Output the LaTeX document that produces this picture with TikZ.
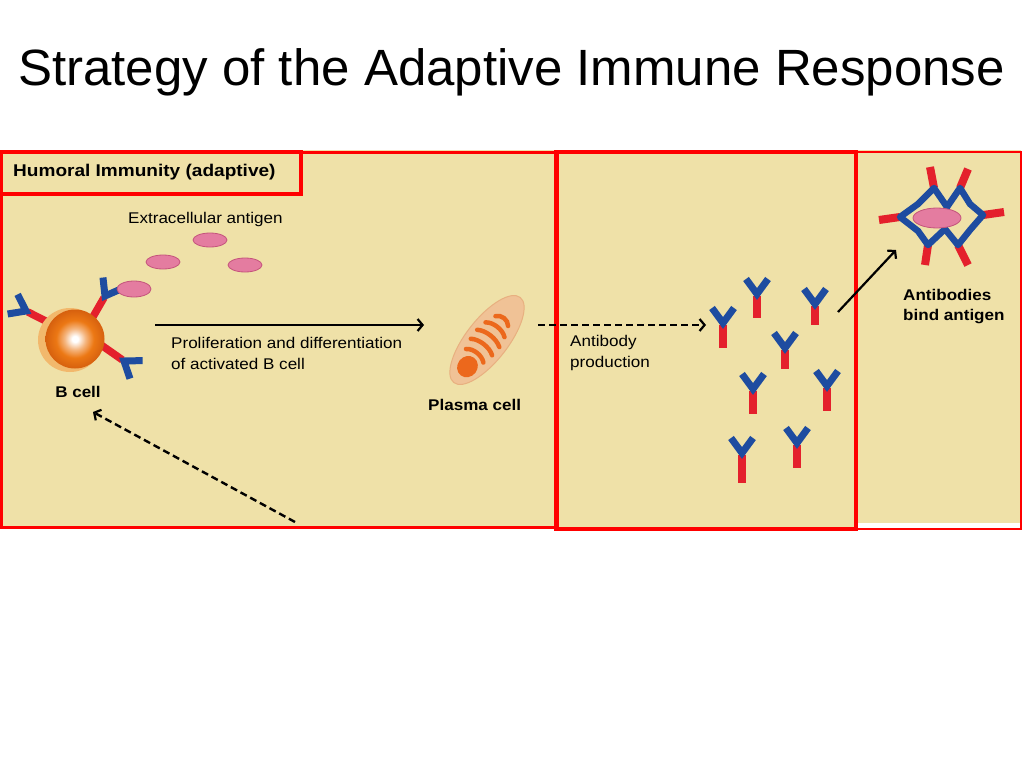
\documentclass[tikz,border=0pt]{standalone}
\usepackage{fontspec}
\setmainfont{Liberation Sans}
\usepackage{graphicx}
\usetikzlibrary{arrows.meta}
\definecolor{beige}{RGB}{239,225,168}
\definecolor{abred}{RGB}{228,32,44}
\definecolor{abblue}{RGB}{30,76,160}
\definecolor{agpink}{RGB}{228,124,160}
\definecolor{agline}{RGB}{196,84,124}
\definecolor{pcfill}{RGB}{240,194,150}
\definecolor{pcedge}{RGB}{232,176,128}
\definecolor{pcorange}{RGB}{236,104,28}
\definecolor{cellorange}{RGB}{236,120,20}
\definecolor{celldark}{RGB}{214,96,14}
\definecolor{celllight}{RGB}{242,184,108}
\pgfdeclareradialshading{bcellshade}{\pgfpoint{0bp}{0bp}}{%
 color(0bp)=(white); color(2.5bp)=(white); color(9bp)=(cellorange!55!white);
 color(16bp)=(cellorange); color(25bp)=(celldark); color(50bp)=(celldark)}
\newcommand\hstretch[1]{\scalebox{1.1}[1]{#1}}
\newcommand\abY[4]{%
 \begin{scope}[shift={(#1,#2)},rotate=#3]
  \draw[abred,line width=7.5pt] (0,2) -- (0,#4);
  \draw[abblue,line width=7pt,line join=miter] (-11,-15) -- (0,0) -- (11,-15);
 \end{scope}}
\tikzset{
 lbl/.style={anchor=base west, inner sep=0pt, font=\fontsize{15.5}{18}\selectfont},
 blbl/.style={lbl, font=\fontsize{15.5}{18}\selectfont\bfseries},
 antigen/.style={fill=agpink, draw=agline, line width=0.8pt},
 redbox/.style={draw=red, line width=#1},
 solidarrow/.style={line width=2.2pt, -{Straight Barb[length=5pt,width=12pt,line width=2.2pt]}},
 dasharrow/.style={line width=2.4pt, dash pattern=on 7pt off 4pt, -{Straight Barb[length=5pt,width=12pt,line width=2.2pt]}}
}
\begin{document}
\begin{tikzpicture}[x=1pt,y=-1pt]
\useasboundingbox (0,0) rectangle (1024,768);
\fill[white] (0,0) rectangle (1024,768);
% backgrounds
\fill[beige] (0,150) rectangle (856,527);
\fill[beige] (856,150) rectangle (1021,523);
% title
\node[anchor=base west, inner sep=0pt, font=\fontsize{51}{60}\selectfont] (title) at (18,85) {Strategy of the Adaptive Immune Response};
% boxes
\draw[redbox=3pt] (1.5,152) rectangle (557,527);
\draw[redbox=3.5pt] (1.5,152) rectangle (301,194);
\draw[redbox=2.5pt] (856,152) rectangle (1021,529);
\draw[redbox=4pt] (556,152) rectangle (856,529);
% texts
\node[blbl, font=\fontsize{17}{20}\selectfont\bfseries] (hdr) at (13,176) {\scalebox{1.12}[1]{Humoral Immunity (adaptive)}};
\node[lbl] (extag) at (128,223) {\hstretch{Extracellular antigen}};
\node[lbl] (prolA) at (171,348) {\hstretch{Proliferation and differentiation}};
\node[lbl] (prolB) at (171,369) {\hstretch{of activated B cell}};
\node[blbl, anchor=base] (bcl) at (78,397) {\hstretch{B cell}};
\node[blbl] (pcl) at (428,410) {\hstretch{Plasma cell}};
\node[lbl] (abpA) at (570,346) {\hstretch{Antibody}};
\node[lbl] (abpB) at (570,367) {\hstretch{production}};
\node[blbl] (bindA) at (903,300) {\hstretch{Antibodies}};
\node[blbl] (bindB) at (903,320) {\hstretch{bind antigen}};
% free antigens
\draw[antigen] (210,240) ellipse [x radius=17pt, y radius=7pt];
\draw[antigen] (163,262) ellipse [x radius=17pt, y radius=7pt];
\draw[antigen] (245,265) ellipse [x radius=17pt, y radius=7pt];
% B cell antibodies
\abY{26}{311}{63}{28}
\abY{105}{296}{-30}{26}
\abY{124}{361}{-125}{30}
\draw[antigen] (134,289) ellipse [x radius=17pt, y radius=8pt];
% B cell
\fill[celllight] (70,340) circle (32pt);
\shade[shading=bcellshade] (75,339) circle (29.5pt);
\coordinate (bcell) at (72,338);
% plasma cell
\begin{scope}[shift={(487,340)},rotate=52]
 \draw[pcedge, fill=pcfill, line width=1pt] (0,0) ellipse [x radius=54pt, y radius=21pt];
 \fill[pcorange] (-33,1) ellipse [x radius=11pt, y radius=10pt];
 \foreach \a/\h in {-18/11,-7/13.5,4/14,15/12,26/8}{
  \draw[pcorange, line width=4.5pt, line cap=round] (\a-2,-\h) .. controls (\a+3,-\h/2) and (\a+3,\h/2) .. (\a-2,\h);
 }
\end{scope}
\coordinate (pcell) at (487,340);
% free antibodies
\abY{723}{323}{0}{25}
\abY{757}{294}{0}{24}
\abY{815}{304}{0}{21}
\abY{785}{348}{0}{21}
\abY{753}{389}{0}{25}
\abY{827}{386}{0}{25}
\abY{797}{443}{0}{25}
\abY{742}{453}{0}{30}
% bound complex
\coordinate (jL) at (900,217);
\coordinate (jTL) at (934,188);
\coordinate (jTR) at (960,188);
\coordinate (jR) at (983,215);
\coordinate (jBR) at (958,245);
\coordinate (jBL) at (928,245);
\draw[abred, line width=8pt] (jL) -- (879,220);
\draw[abred, line width=8pt] (jTL) -- (930,167);
\draw[abred, line width=8pt] (jTR) -- (968,169);
\draw[abred, line width=8pt] (jR) -- (1004,212);
\draw[abred, line width=8pt] (jBR) -- (968,265);
\draw[abred, line width=8pt] (jBL) -- (925,265);
\draw[abblue, line width=6.5pt, line join=round] (jL) -- (918,204) -- (jTL) -- (947,207) -- (jTR) -- (970,204) -- (jR) -- (970,230) -- (jBR) -- (945,229) -- (jBL) -- (918,231) -- cycle;
\draw[antigen] (937,218) ellipse [x radius=24pt, y radius=10pt];
% arrows
\coordinate (a1s) at (155,325);
\coordinate (a1e) at (424,325);
\coordinate (a2s) at (538,325);
\coordinate (a2e) at (706,325);
\coordinate (a3s) at (838,312);
\coordinate (a3e) at (896,250);
\coordinate (a4s) at (295,522);
\coordinate (a4e) at (93,412);
\draw[solidarrow] (a1s) -- (a1e);
\draw[dasharrow] (a2s) -- (a2e);
\draw[solidarrow] (a3s) -- (a3e);
\draw[dasharrow] (a4s) -- (a4e);
\end{tikzpicture}
\end{document}
